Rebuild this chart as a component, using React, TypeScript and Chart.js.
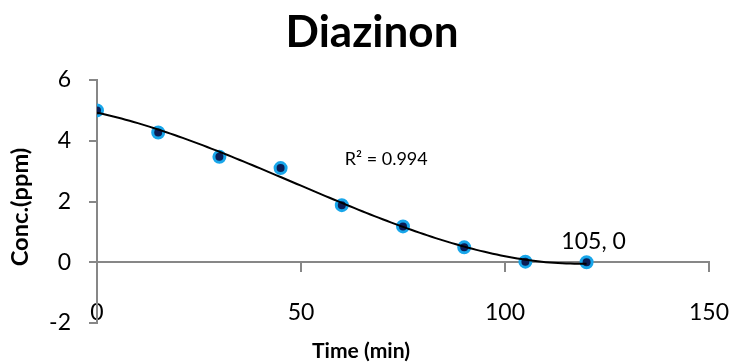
import React, { useEffect, useRef } from "react";
import { Chart, registerables } from "chart.js";

Chart.register(...registerables);

// ---- data ----
const timeMin = [0, 15, 30, 45, 60, 75, 90, 105, 120];
const concPpm = [5.0, 4.27, 3.47, 3.1, 1.88, 1.18, 0.49, 0.02, 0.0];
const xTickValues = [0, 50, 100, 150];
const yTickValues = [-2, 0, 2, 4, 6];
const chartTitle = "Diazinon";
const xTitle = "Time (min)";
const yTitle = "Conc.(ppm)";
const r2Label = "R² = 0.994";
const pointLabel = "105, 0";
const trendOrder = 3;

const FONT = "Lato, Carlito, 'Open Sans', sans-serif";

// least-squares polynomial fit (Excel-style polynomial trendline)
function polyFit(xs: number[], ys: number[], order: number): number[] {
  const n = order + 1;
  const s = 100;
  const A: number[][] = Array.from({ length: n }, () => new Array(n + 1).fill(0));
  for (let k = 0; k < xs.length; k++) {
    const x = xs[k] / s;
    for (let i = 0; i < n; i++) {
      for (let j = 0; j < n; j++) A[i][j] += Math.pow(x, i + j);
      A[i][n] += ys[k] * Math.pow(x, i);
    }
  }
  for (let c = 0; c < n; c++) {
    let p = c;
    for (let r = c + 1; r < n; r++) if (Math.abs(A[r][c]) > Math.abs(A[p][c])) p = r;
    [A[c], A[p]] = [A[p], A[c]];
    for (let r = 0; r < n; r++) {
      if (r === c) continue;
      const f = A[r][c] / A[c][c];
      for (let j = c; j <= n; j++) A[r][j] -= f * A[c][j];
    }
  }
  return A.map((row, i) => row[n] / row[i] / Math.pow(s, i));
}

function fitFont(ctx: CanvasRenderingContext2D, text: string, weight: string, base: number, target: number) {
  ctx.font = `${weight} ${base}px ${FONT}`;
  const w = ctx.measureText(text).width;
  const size = Math.max(10, Math.min(base * 1.4, (base * target) / w));
  ctx.font = `${weight} ${size.toFixed(1)}px ${FONT}`;
}

export default function App() {
  const ref = useRef<HTMLCanvasElement>(null);

  useEffect(() => {
    if (!ref.current) return;
    const coef = polyFit(timeMin, concPpm, trendOrder);
    const xMin = timeMin[0];
    const xMax = timeMin[timeMin.length - 1];
    const trend: { x: number; y: number }[] = [];
    for (let x = xMin; x <= xMax; x += 1) {
      let y = 0;
      coef.forEach((c, i) => (y += c * Math.pow(x, i)));
      trend.push({ x, y });
    }
    const pts = timeMin.map((x, i) => ({ x, y: concPpm[i] }));

    const textPlugin = {
      id: "texts",
      afterDraw(chart: any) {
        const ctx = chart.ctx;
        const xs = chart.scales.x;
        const ys = chart.scales.y;
        ctx.save();
        ctx.fillStyle = "#000";
        // title
        ctx.font = `bold 44px ${FONT}`;
        ctx.textAlign = "center";
        ctx.textBaseline = "alphabetic";
        ctx.fillText(chartTitle, 372, 47);
        // x title
        fitFont(ctx, xTitle, "bold", 18, 98);
        ctx.fillText(xTitle, 361, 358);
        // y title
        fitFont(ctx, yTitle, "bold", 18, 119);
        ctx.save();
        ctx.translate(28, 207);
        ctx.rotate(-Math.PI / 2);
        ctx.fillText(yTitle, 0, 0);
        ctx.restore();
        // R² label
        ctx.font = `18px ${FONT}`;
        ctx.textAlign = "left";
        ctx.fillText(r2Label, xs.getPixelForValue(60) + 3, ys.getPixelForValue(3.2));
        // data label at last point
        const lx = timeMin[timeMin.length - 1];
        const ly = concPpm[concPpm.length - 1];
        ctx.font = `23px ${FONT}`;
        ctx.textAlign = "center";
        ctx.fillText(pointLabel, xs.getPixelForValue(lx) + 7, ys.getPixelForValue(ly) - 13);
        ctx.restore();
      },
    };

    const chart = new Chart(ref.current, {
      type: "scatter",
      data: {
        datasets: [
          {
            type: "line",
            data: trend,
            borderColor: "#000",
            borderWidth: 2,
            pointRadius: 0,
            fill: false,
            order: 0,
            tension: 0,
          },
          {
            type: "scatter",
            data: pts,
            backgroundColor: "#0b1d55",
            borderColor: "#18a6ea",
            borderWidth: 3,
            pointRadius: 5.5,
            order: 1,
          },
        ],
      },
      options: {
        responsive: false,
        animation: false,
        layout: { padding: { left: 0, right: 23, top: 80, bottom: 39 } },
        plugins: { legend: { display: false }, tooltip: { enabled: false }, title: { display: false } },
        scales: {
          x: {
            type: "linear",
            position: { y: 0 } as any,
            min: xTickValues[0],
            max: xTickValues[xTickValues.length - 1],
            afterBuildTicks: (s: any) => {
              s.ticks = xTickValues.map((v) => ({ value: v }));
            },
            afterFit: (s: any) => {
              s.paddingLeft = 0;
              s.paddingRight = 0;
            },
            grid: { drawOnChartArea: false, drawTicks: true, tickLength: 9, color: "#878787", lineWidth: 2 },
            border: { color: "#878787", width: 2 },
            ticks: { font: { family: FONT, size: 23 }, color: "#000", padding: 28, maxRotation: 0 },
          },
          y: {
            type: "linear",
            min: yTickValues[0],
            max: yTickValues[yTickValues.length - 1],
            afterBuildTicks: (s: any) => {
              s.ticks = yTickValues.map((v) => ({ value: v }));
            },
            afterFit: (s: any) => {
              s.width = 97;
              s.paddingTop = 0;
              s.paddingBottom = 0;
            },
            grid: { drawOnChartArea: false, drawTicks: true, tickLength: 8, color: "#878787", lineWidth: 2 },
            border: { color: "#878787", width: 2 },
            ticks: { font: { family: FONT, size: 23 }, color: "#000", padding: 18 },
          },
        },
      },
      plugins: [textPlugin],
    } as any);
    return () => chart.destroy();
  }, []);

  return (
    <canvas
      ref={ref}
      width={732}
      height={362}
      style={{ position: "absolute", left: 0, top: 0, width: 732, height: 362 }}
    />
  );
}
